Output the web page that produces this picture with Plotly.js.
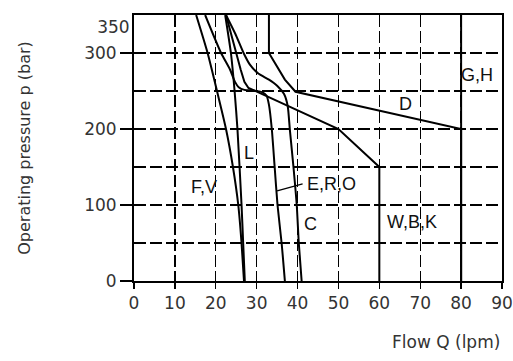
<!DOCTYPE html>
<html><head><meta charset="utf-8">
<script src="https://cdn.plot.ly/plotly-3.0.1.min.js"></script>
<style>html,body{margin:0;padding:0;background:#fff}</style>
</head><body><div id="chart" style="width:513px;height:361px"></div>
<script>
// Flow Q (lpm) vs operating pressure p (bar)
const fvQ  = [15.2, 18.0, 20.3, 22.5, 24.2, 25.5, 26.3, 26.9];
const fvP  = [350, 300, 250, 200, 150, 100, 50, 0];
const lQ   = [22.3, 23.7, 24.6, 25.3, 26.3, 26.7, 27.1];
const lP   = [350, 300, 250, 200, 100, 50, 0];
const eroQ = [17.4, 21.3, 23.5, 24.7, 25.6, 27.0, 29.5, 31.3, 32.4, 33.0, 33.7, 34.4, 35.1, 36.1, 36.9];
const eroP = [350, 300, 278, 262, 255, 251.5, 250.5, 248.5, 244, 232, 200, 150, 100, 50, 0];
const cQ   = [22.5, 24.8, 26.8, 28.3, 30.4, 33.0, 35.0, 36.7, 37.6, 38.1, 39.0, 39.8, 40.3, 41.0];
const cP   = [350, 325, 300, 285, 273, 265, 257, 246, 230, 200, 150, 100, 50, 0];
const wbkQ = [22.5, 24.9, 26.1, 27.0, 28.0, 29.5, 40.6, 50, 60, 60];
const wbkP = [350, 300, 278, 262, 254, 250.5, 223, 200, 150, 0];
const dQ   = [33, 33, 36.9, 39.5, 80, 80];
const dP   = [350, 300, 265, 249, 200, 0];
const ghQ  = [80, 80];
const ghP  = [0, 350];

const xTicks = [0, 10, 20, 30, 40, 50, 60, 70, 80, 90];
const xTickText = ['0', '10', '20', '30', '40', '50', '60', '70', '80', '90'];
const yTicks = [0, 100, 200, 300];
const yTickText = ['0', '100', '200', '300'];
const yMinor = [50, 150, 250];
const yTop = [350];
const yTopText = ['350'];
const curveNames = ['F,V', 'L', 'E,R,O', 'C', 'W,B,K', 'D', 'G,H'];

const ink = '#000';
const tickFont = {family: 'DejaVu Sans, sans-serif', size: 17, color: '#333'};
const labFont = {family: 'Liberation Sans, Arial, sans-serif', size: 18, color: '#111'};
const dash = '12px,4px';
const gw = 1.3;

function curve(q, p, name, shape) {
  return {x: q, y: p, name: name, type: 'scatter', mode: 'lines',
          line: {color: ink, width: 2, shape: shape || 'linear', smoothing: 0.6},
          hoverinfo: 'skip', showlegend: false};
}

const data = [
  curve(fvQ, fvP, curveNames[0], 'spline'),
  curve(lQ, lP, curveNames[1], 'spline'),
  curve(eroQ, eroP, curveNames[2], 'spline'),
  curve(cQ, cP, curveNames[3], 'spline'),
  curve(wbkQ, wbkP, curveNames[4]),
  curve(dQ, dP, curveNames[5]),
  curve(ghQ, ghP, curveNames[6]),
  {x: [0], y: yTop, yaxis: 'y2', type: 'scatter', mode: 'markers',
   marker: {opacity: 0}, hoverinfo: 'skip', showlegend: false}
];

const layout = {
  width: 513, height: 361,
  margin: {l: 134, r: 11, t: 15, b: 80},
  paper_bgcolor: '#fff', plot_bgcolor: '#fff',
  showlegend: false,
  xaxis: {
    range: [0, 90], tickmode: 'array', tickvals: xTicks, ticktext: xTickText,
    ticks: 'outside', ticklen: 6, tickwidth: gw, tickcolor: ink,
    showline: true, mirror: true, linecolor: ink, linewidth: 2,
    showgrid: true, gridcolor: ink, gridwidth: gw, griddash: dash,
    zeroline: false, tickfont: tickFont, fixedrange: true
  },
  yaxis: {
    range: [0, 350], tickmode: 'array', tickvals: yTicks, ticktext: yTickText,
    ticks: 'outside', ticklen: 12, tickwidth: gw, tickcolor: ink,
    showline: true, mirror: true, linecolor: ink, linewidth: 2,
    showgrid: true, gridcolor: ink, gridwidth: gw, griddash: dash,
    minor: {tickmode: 'array', tickvals: yMinor, showgrid: true, gridcolor: ink,
            gridwidth: gw, griddash: dash, ticks: ''},
    zeroline: false, tickfont: tickFont, fixedrange: true,
    title: {text: 'Operating pressure p (bar)', font: {family: 'DejaVu Sans, sans-serif', size: 16, color: '#333'}, standoff: 50}
  },
  yaxis2: {
    overlaying: 'y', side: 'left', range: [0, 350], tickmode: 'array',
    tickvals: yTop, ticktext: yTopText, ticks: 'outside', ticklen: 12,
    tickcolor: 'rgba(0,0,0,0)', ticklabelposition: 'outside bottom',
    showgrid: false, showline: false, zeroline: false, tickfont: tickFont, fixedrange: true
  },
  annotations: [
    {x: 1, y: -0.23, xref: 'paper', yref: 'paper', xanchor: 'right', yanchor: 'middle',
     text: 'Flow Q (lpm)', showarrow: false, font: {family: 'DejaVu Sans, sans-serif', size: 17, color: '#333'}},
    {x: 84.0, y: 271, text: curveNames[6], showarrow: false, font: labFont},
    {x: 66.3, y: 233, text: curveNames[5], showarrow: false, font: labFont},
    {x: 28.2, y: 169, text: curveNames[1], showarrow: false, font: labFont},
    {x: 17.0, y: 124, text: curveNames[0], showarrow: false, font: labFont},
    {x: 41.8, y: 127, text: curveNames[2], xanchor: 'left', showarrow: false, font: labFont},
    {x: 43.2, y: 75, text: curveNames[3], showarrow: false, font: labFont},
    {x: 68.0, y: 77, text: curveNames[4], showarrow: false, font: labFont},
    {x: 35.0, y: 118.7, ax: 41.6, ay: 128.5, axref: 'x', ayref: 'y', text: '',
     showarrow: true, arrowhead: 0, arrowwidth: 1.3, arrowcolor: ink, standoff: 0}
  ]
};

Plotly.newPlot('chart', data, layout, {staticPlot: true, displayModeBar: false});
</script></body></html>
